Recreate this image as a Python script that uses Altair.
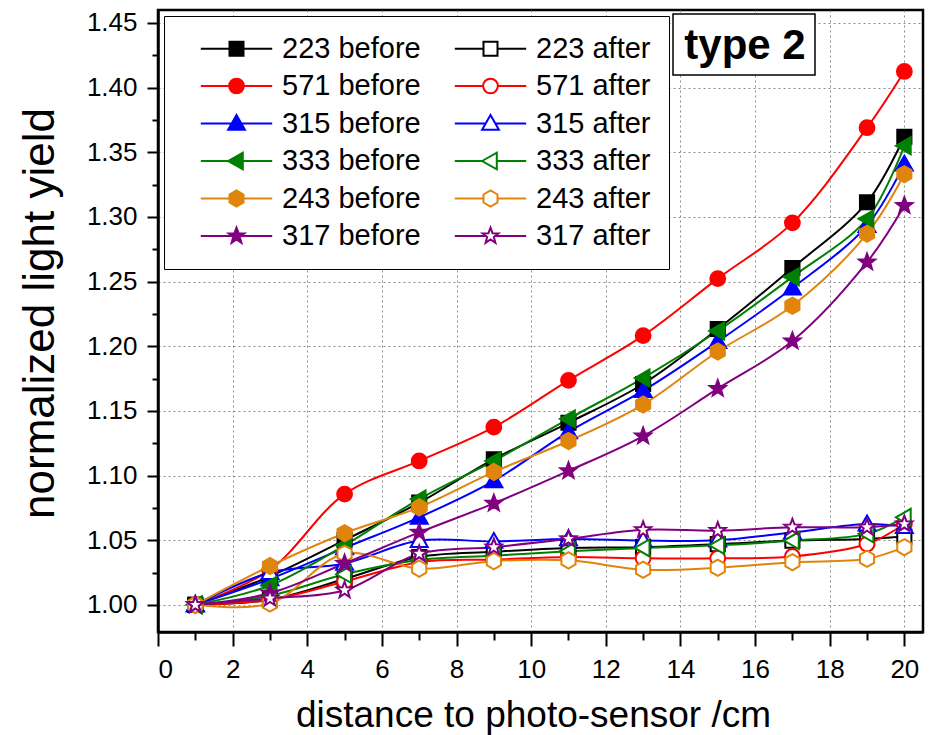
import math
import altair as alt
import pandas as pd

# ---------------- data ----------------
x_cm = [1, 3, 5, 7, 9, 11, 13, 15, 17, 19, 20]

b223 = [1.000, 1.022, 1.050, 1.079, 1.1126, 1.1408, 1.1708, 1.2133, 1.2605, 1.3113, 1.362]
b571 = [1.000, 1.027, 1.0856, 1.1113, 1.1374, 1.1736, 1.2082, 1.2523, 1.2954, 1.369, 1.4125]
b315 = [1.000, 1.020, 1.044, 1.0677, 1.0959, 1.1338, 1.1656, 1.2036, 1.245, 1.2933, 1.3408]
b333 = [1.000, 1.015, 1.046, 1.0818, 1.1113, 1.1438, 1.1754, 1.2118, 1.2536, 1.2985, 1.355]
b243 = [1.000, 1.030, 1.0554, 1.0754, 1.1028, 1.1267, 1.1549, 1.1959, 1.2313, 1.287, 1.333]
b317 = [1.000, 1.009, 1.032, 1.056, 1.0785, 1.1036, 1.1305, 1.1672, 1.204, 1.265, 1.3087]

a223 = [1.000, 1.004, 1.020, 1.037, 1.041, 1.044, 1.0446, 1.047, 1.0497, 1.051, 1.0528]
a571 = [1.000, 1.004, 1.018, 1.033, 1.035, 1.037, 1.036, 1.036, 1.0374, 1.047, 1.0625]
a315 = [1.000, 1.025, 1.032, 1.0497, 1.049, 1.051, 1.0497, 1.050, 1.056, 1.0625, 1.0605]
a333 = [1.000, 1.007, 1.0236, 1.0346, 1.038, 1.0415, 1.044, 1.046, 1.0497, 1.0549, 1.0677]
a243 = [1.000, 1.001, 1.0395, 1.028, 1.0338, 1.0344, 1.0272, 1.0287, 1.033, 1.0356, 1.0446]
a317 = [1.000, 1.005, 1.0113, 1.0395, 1.0446, 1.051, 1.058, 1.0574, 1.060, 1.060, 1.0625]

samples = ["223", "571", "315", "333", "243", "317"]
before_vals = [b223, b571, b315, b333, b243, b317]
after_vals = [a223, a571, a315, a333, a243, a317]
sample_colors = ["#000000", "#FF0000", "#0000FF", "#008000", "#E0850C", "#800080"]

# ---------------- marker shapes ----------------
def star_path(R=1.2, r=0.5):
    pts = []
    for k in range(10):
        ang = math.radians(-90 + 36 * k)
        rad = R if k % 2 == 0 else r
        pts.append((rad * math.cos(ang), rad * math.sin(ang)))
    return "M" + "L".join(f"{px:.3f},{py:.3f}" for px, py in pts) + "Z"

marker = {
    "223": ("M-1,-1H1V1H-1Z", 1.0, 1.0),
    "571": ("M-1.05,0A1.05,1.05 0 1,1 1.05,0A1.05,1.05 0 1,1 -1.05,0Z", 1.05, 1.05),
    "315": ("M0,-1.2L1.2,0.9H-1.2Z", 0.6, 0.6),
    "333": ("M-1.2,0L0.9,-1.2V1.2Z", 1.2, 0.9),
    "243": ("M0,-1.15L1,-0.575V0.575L0,1.15L-1,0.575V-0.575Z", 1.0, 1.0),
    "317": (star_path(), 0.55, 0.55),
}
L = 5.1

def with_line(s):
    path, left, right = marker[s]
    return f"M{-L},0H{-left}M{right},0H{L}" + path

# legend fills column by column: all "before" entries, then all "after" entries
series_order, colors, fills, plot_shapes, legend_shapes = [], [], [], [], []
for kind in ("before", "after"):
    for s, col in zip(samples, sample_colors):
        series_order.append(f"{s} {kind}")
        colors.append(col)
        fills.append(col if kind == "before" else "#FFFFFF")
        plot_shapes.append(marker[s][0])
        legend_shapes.append(with_line(s))

rows = []
for s, bv, av in zip(samples, before_vals, after_vals):
    for kind, vals in (("before", bv), ("after", av)):
        for xv, yv in zip(x_cm, vals):
            rows.append({"x": xv, "value": yv, "series": f"{s} {kind}"})
df = pd.DataFrame(rows)

FONT = "Liberation Sans"

x_axis = alt.Axis(
    values=list(range(0, 21)),
    labelExpr="datum.value % 2 == 0 ? datum.value : ''",
    tickSize={"condition": {"test": "datum.value % 2 == 0", "value": 14}, "value": 8},
    gridOpacity={"condition": {"test": "datum.value % 2 == 0", "value": 1}, "value": 0},
    labelPadding=10, titlePadding=15, titleX=375,
    labelFontSize=26, titleFontSize=37,
)
y_axis = alt.Axis(
    values=[round(1 + 0.025 * i, 3) for i in range(19)],
    labelExpr="abs(round(datum.value*1000) % 50) < 1 ? format(datum.value, '.2f') : ''",
    tickSize={"condition": {"test": "abs(round(datum.value*1000) % 50) < 1", "value": 11}, "value": 6},
    gridOpacity={"condition": {"test": "abs(round(datum.value*1000) % 50) < 1", "value": 1}, "value": 0},
    labelPadding=10, titlePadding=24, titleY=303,
    labelFontSize=26, titleFontSize=44,
)

x_enc = alt.X("x:Q", scale=alt.Scale(domain=[0, 20.5], nice=False, zero=False),
              axis=x_axis, title="distance to photo-sensor /cm")
y_enc = alt.Y("value:Q", scale=alt.Scale(domain=[0.979, 1.46], nice=False, zero=False),
              axis=y_axis, title="normalized light yield")

base = alt.Chart(df)

lines = base.mark_line(interpolate="catmull-rom", strokeWidth=2).encode(
    x=x_enc, y=y_enc,
    stroke=alt.Stroke("series:N", scale=alt.Scale(domain=series_order, range=colors), legend=None),
    detail="series:N",
)

points = base.mark_point(opacity=1, strokeWidth=2, size=200).encode(
    x=x_enc, y=y_enc,
    shape=alt.Shape("series:N", scale=alt.Scale(domain=series_order, range=plot_shapes), legend=None),
    fill=alt.Fill("series:N", scale=alt.Scale(domain=series_order, range=fills), legend=None),
    stroke=alt.Stroke("series:N", scale=alt.Scale(domain=series_order, range=colors), legend=None),
)

leg = alt.Legend(
    title=None, orient="none", legendX=6, legendY=6, columns=2,
    labelFont=FONT, labelFontSize=29, labelColor="black", labelLimit=400,
    symbolSize=196, symbolStrokeWidth=2, symbolOffset=40, labelOffset=31,
    padding=18, rowPadding=7.5, columnPadding=15,
    strokeColor="black", fillColor="white", symbolOpacity=1,
)

legend_layer = base.transform_filter("datum.x < 0").mark_point(opacity=1, strokeWidth=2, size=196).encode(
    x=x_enc, y=y_enc,
    shape=alt.Shape("series:N", scale=alt.Scale(domain=series_order, range=legend_shapes), legend=leg),
    fill=alt.Fill("series:N", scale=alt.Scale(domain=series_order, range=fills), legend=leg),
    stroke=alt.Stroke("series:N", scale=alt.Scale(domain=series_order, range=colors), legend=leg),
)

note = alt.Chart(pd.DataFrame({"label": ["type 2"]}))
box = note.mark_rect(fill="white", stroke="black", strokeWidth=1.5).encode(
    x=alt.value(515), x2=alt.value(657), y=alt.value(4), y2=alt.value(65)
)
txt = note.mark_text(font=FONT, fontSize=42, fontWeight="bold", color="black",
                     align="center", baseline="middle").encode(
    x=alt.value(587), y=alt.value(36), text="label:N"
)

chart = (
    alt.layer(lines, points, legend_layer, box, txt)
    .resolve_scale(shape="independent", fill="independent", stroke="independent")
    .properties(
        width=765, height=622,
        autosize=alt.AutoSizeParams(type="none"),
        padding={"left": 158, "top": 10, "right": 11, "bottom": 103},
        background="white",
    )
    .configure_view(stroke="black", strokeWidth=2.5)
    .configure_axis(
        labelFont=FONT, titleFont=FONT, labelColor="black", titleColor="black",
        titleFontWeight="normal", domainColor="black", domainWidth=2.5,
        tickColor="black", tickWidth=2, gridColor="#8c8c8c", gridDash=[2, 3], gridWidth=1,
    )
)

chart.save("out.html", embed_options={"renderer": "svg", "actions": False})
